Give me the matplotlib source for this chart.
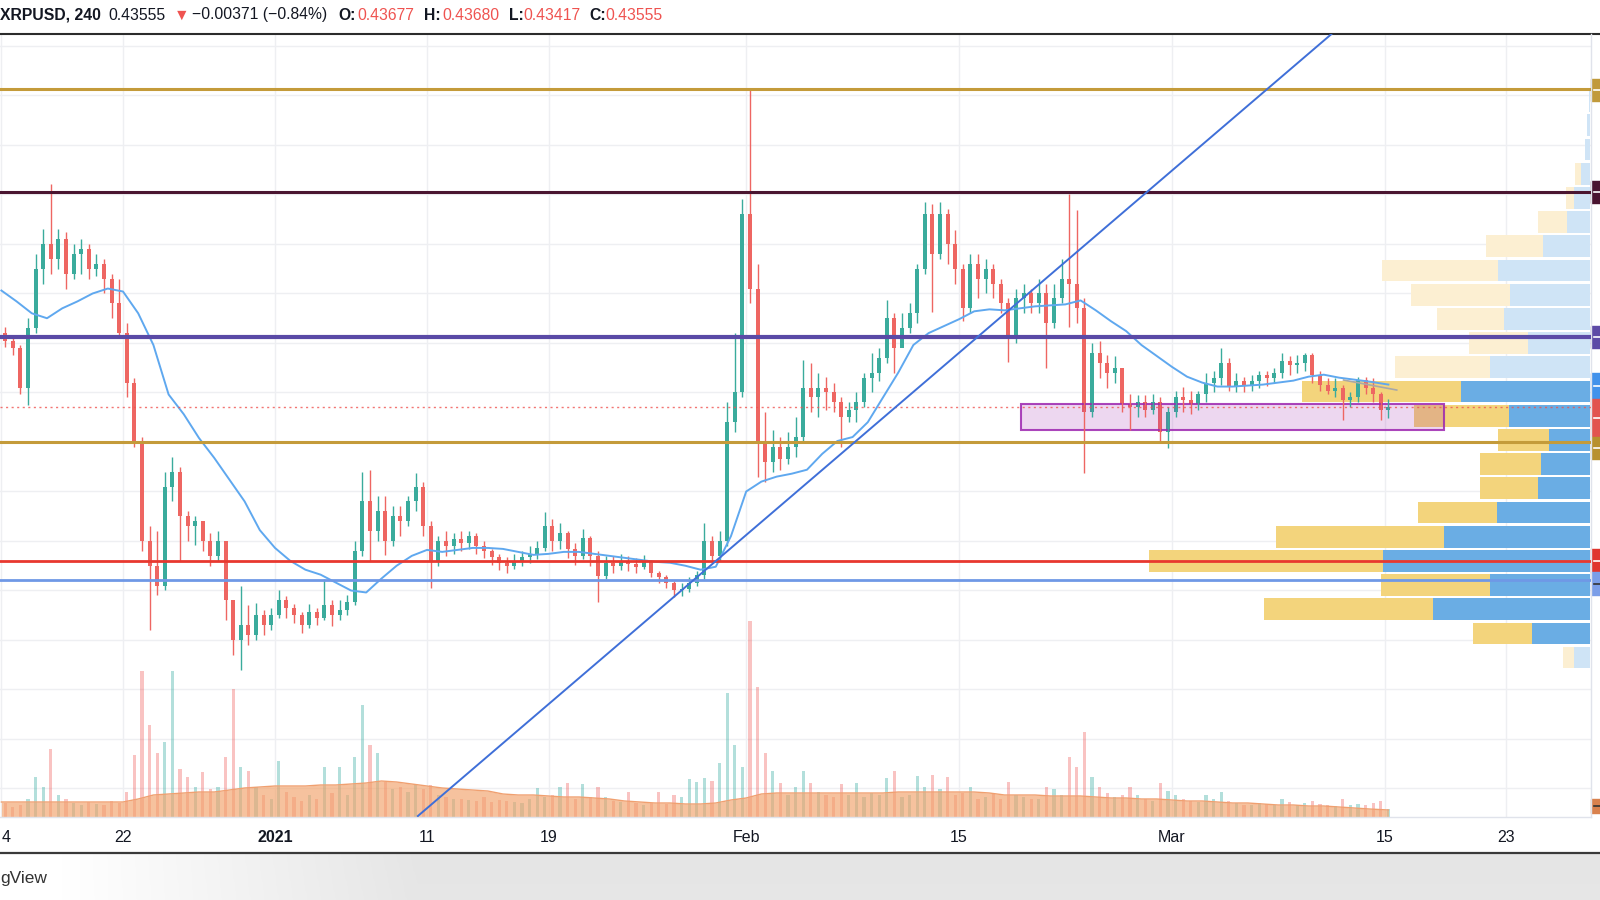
import matplotlib
matplotlib.use("Agg")
import matplotlib.pyplot as plt
from matplotlib.lines import Line2D
from matplotlib.patches import Rectangle
import numpy as np

# XRPUSD, 12h candles, day 0 = Dec 14 2020
first_open = 0.510
closes = [0.502, 0.495, 0.455, 0.515, 0.575, 0.600, 0.585, 0.605, 0.570, 0.590,
          0.595, 0.575, 0.580, 0.565, 0.540, 0.510, 0.460, 0.400, 0.300, 0.275,
          0.255, 0.355, 0.370, 0.325, 0.315, 0.320, 0.300, 0.285, 0.300, 0.240,
          0.200, 0.215, 0.205, 0.225, 0.215, 0.225, 0.240, 0.232, 0.225, 0.215,
          0.228, 0.222, 0.235, 0.225, 0.230, 0.238, 0.290, 0.340, 0.310, 0.330,
          0.300, 0.325, 0.320, 0.340, 0.355, 0.315, 0.280, 0.300, 0.295, 0.302,
          0.298, 0.305, 0.295, 0.290, 0.284, 0.278, 0.275, 0.280, 0.284, 0.287,
          0.293, 0.315, 0.300, 0.308, 0.292, 0.285, 0.303, 0.285, 0.265, 0.278,
          0.275, 0.280, 0.277, 0.274, 0.280, 0.268, 0.264, 0.258, 0.250, 0.252,
          0.258, 0.266, 0.300, 0.285, 0.300, 0.420, 0.450, 0.630, 0.555, 0.400,
          0.380, 0.395, 0.383, 0.395, 0.405, 0.455, 0.445, 0.455, 0.450, 0.440,
          0.425, 0.432, 0.440, 0.465, 0.470, 0.485, 0.525, 0.495, 0.515, 0.530,
          0.575, 0.630, 0.590, 0.630, 0.600, 0.575, 0.535, 0.580, 0.565, 0.575,
          0.560, 0.540, 0.505, 0.545, 0.550, 0.540, 0.550, 0.520, 0.545, 0.565,
          0.560, 0.535, 0.430, 0.490, 0.480, 0.470, 0.475, 0.438, 0.435, 0.440,
          0.432, 0.440, 0.410, 0.430, 0.445, 0.442, 0.438, 0.448, 0.460, 0.465,
          0.480, 0.457, 0.462, 0.457, 0.462, 0.468, 0.465, 0.470, 0.482, 0.478,
          0.480, 0.488, 0.468, 0.458, 0.452, 0.455, 0.442, 0.445, 0.463, 0.455,
          0.448, 0.432, 0.4356]
highs = [0.516, 0.508, 0.498, 0.525, 0.590, 0.615, 0.661, 0.615, 0.612, 0.600,
         0.605, 0.600, 0.590, 0.585, 0.570, 0.565, 0.520, 0.465, 0.405, 0.315,
         0.310, 0.370, 0.385, 0.375, 0.330, 0.325, 0.320, 0.308, 0.310, 0.300,
         0.240, 0.255, 0.235, 0.237, 0.230, 0.232, 0.250, 0.244, 0.236, 0.228,
         0.236, 0.232, 0.262, 0.240, 0.240, 0.245, 0.300, 0.370, 0.372, 0.345,
         0.345, 0.335, 0.335, 0.345, 0.369, 0.360, 0.320, 0.305, 0.310, 0.308,
         0.310, 0.310, 0.308, 0.300, 0.292, 0.287, 0.284, 0.287, 0.290, 0.295,
         0.300, 0.329, 0.322, 0.318, 0.310, 0.298, 0.312, 0.305, 0.290, 0.285,
         0.285, 0.287, 0.285, 0.283, 0.286, 0.281, 0.270, 0.266, 0.260, 0.258,
         0.264, 0.270, 0.318, 0.305, 0.310, 0.440, 0.510, 0.645, 0.7566, 0.580,
         0.430, 0.412, 0.405, 0.410, 0.425, 0.483, 0.480, 0.470, 0.466, 0.460,
         0.445, 0.440, 0.450, 0.470, 0.490, 0.495, 0.543, 0.530, 0.530, 0.540,
         0.580, 0.642, 0.640, 0.642, 0.635, 0.614, 0.580, 0.590, 0.590, 0.585,
         0.580, 0.565, 0.545, 0.555, 0.560, 0.555, 0.565, 0.560, 0.560, 0.585,
         0.650, 0.634, 0.545, 0.500, 0.502, 0.488, 0.487, 0.475, 0.448, 0.447,
         0.447, 0.448, 0.445, 0.435, 0.452, 0.456, 0.452, 0.452, 0.470, 0.472,
         0.495, 0.485, 0.470, 0.466, 0.468, 0.472, 0.472, 0.475, 0.490, 0.487,
         0.488, 0.490, 0.490, 0.472, 0.465, 0.465, 0.458, 0.450, 0.466, 0.466,
         0.465, 0.450, 0.443]
lows = [0.496, 0.488, 0.448, 0.437, 0.510, 0.560, 0.570, 0.575, 0.555, 0.565,
        0.570, 0.565, 0.568, 0.550, 0.525, 0.505, 0.445, 0.395, 0.290, 0.210,
        0.245, 0.250, 0.340, 0.280, 0.300, 0.296, 0.290, 0.275, 0.280, 0.220,
        0.185, 0.170, 0.195, 0.200, 0.205, 0.210, 0.222, 0.222, 0.217, 0.207,
        0.212, 0.215, 0.220, 0.214, 0.220, 0.225, 0.235, 0.285, 0.280, 0.300,
        0.286, 0.295, 0.305, 0.315, 0.330, 0.305, 0.253, 0.275, 0.285, 0.287,
        0.290, 0.292, 0.287, 0.283, 0.276, 0.271, 0.268, 0.272, 0.275, 0.278,
        0.282, 0.290, 0.290, 0.292, 0.283, 0.276, 0.282, 0.275, 0.238, 0.262,
        0.268, 0.271, 0.270, 0.268, 0.272, 0.264, 0.258, 0.253, 0.243, 0.244,
        0.248, 0.255, 0.262, 0.278, 0.280, 0.295, 0.410, 0.445, 0.540, 0.365,
        0.360, 0.370, 0.372, 0.378, 0.385, 0.400, 0.430, 0.425, 0.432, 0.430,
        0.395, 0.420, 0.420, 0.435, 0.450, 0.462, 0.480, 0.470, 0.500, 0.510,
        0.520, 0.570, 0.531, 0.585, 0.580, 0.560, 0.522, 0.530, 0.545, 0.550,
        0.545, 0.530, 0.481, 0.500, 0.530, 0.530, 0.530, 0.475, 0.515, 0.540,
        0.516, 0.520, 0.369, 0.425, 0.465, 0.455, 0.460, 0.430, 0.412, 0.425,
        0.425, 0.428, 0.400, 0.394, 0.425, 0.430, 0.428, 0.432, 0.440, 0.450,
        0.458, 0.452, 0.450, 0.450, 0.452, 0.455, 0.457, 0.460, 0.465, 0.468,
        0.470, 0.472, 0.460, 0.452, 0.448, 0.445, 0.422, 0.435, 0.440, 0.448,
        0.440, 0.422, 0.424]
volumes = [14, 10, 12, 18, 40, 30, 68, 22, 18, 14, 12, 15, 13, 12, 16, 14, 25, 62, 146, 92,
           64, 75, 146, 48, 40, 30, 45, 28, 30, 60, 128, 50, 46, 30, 22, 18, 56, 25, 20, 16,
           22, 18, 50, 24, 50, 22, 60, 112, 72, 64, 35, 28, 30, 25, 33, 28, 32, 22, 20, 18,
           18, 17, 16, 20, 15, 17, 16, 15, 14, 18, 29, 20, 22, 30, 34, 18, 33, 20, 30, 20,
           16, 15, 25, 14, 12, 14, 25, 13, 22, 20, 38, 35, 39, 36, 54, 124, 72, 50, 196, 130,
           64, 46, 34, 22, 30, 46, 34, 25, 22, 20, 33, 22, 34, 20, 24, 22, 39, 46, 20, 22,
           41, 30, 42, 28, 40, 22, 24, 30, 18, 20, 24, 18, 35, 22, 20, 18, 18, 30, 28, 22,
           60, 50, 85, 40, 30, 24, 20, 22, 30, 22, 18, 16, 34, 26, 22, 18, 16, 15, 22, 18,
           25, 16, 14, 12, 12, 14, 13, 12, 18, 15, 12, 14, 16, 13, 12, 11, 18, 12, 13, 12,
           14, 16, 8]

# moving average of price and of volume, one value per day
ma_values = [0.553, 0.542, 0.530, 0.525, 0.535, 0.542, 0.550, 0.555, 0.552, 0.530,
             0.498, 0.448, 0.428, 0.404, 0.384, 0.362, 0.340, 0.311, 0.293, 0.280,
             0.271, 0.266, 0.258, 0.250, 0.248, 0.262, 0.275, 0.285, 0.291, 0.289,
             0.291, 0.293, 0.293, 0.292, 0.289, 0.286, 0.287, 0.289, 0.289, 0.287,
             0.285, 0.283, 0.281, 0.279, 0.278, 0.275, 0.271, 0.274, 0.305, 0.350,
             0.360, 0.365, 0.368, 0.372, 0.388, 0.401, 0.405, 0.420, 0.445, 0.470,
             0.498, 0.510, 0.517, 0.524, 0.532, 0.534, 0.533, 0.535, 0.537, 0.538,
             0.539, 0.543, 0.533, 0.522, 0.512, 0.498, 0.487, 0.476, 0.466, 0.460,
             0.456, 0.456, 0.457, 0.458, 0.460, 0.462, 0.466, 0.468, 0.465, 0.463,
             0.461, 0.458]
vol_ma_values = [15, 15, 15, 15, 15, 15, 15, 15, 15, 18, 22, 23, 24, 25, 25, 27, 29, 30, 31, 31,
                 31, 32, 32, 33, 34, 36, 35, 33, 31, 29, 28, 27, 26, 23, 22, 22, 21, 20, 20, 19,
                 18, 16, 15, 14, 14, 13, 13, 14, 17, 19, 23, 24, 24, 24, 24, 24, 24, 24, 24, 25,
                 25, 25, 25, 25, 25, 24, 22, 22, 22, 21, 21, 21, 20, 19, 19, 18, 18, 17, 16, 16,
                 15, 14, 14, 13, 12, 12, 11, 11, 10, 9, 8, 7]

# horizontal levels drawn on the chart
levels = [0.7566, 0.6525, 0.5061, 0.400, 0.2798, 0.2606]
level_colors = ["#c49b3a", "#4a1530", "#5a4aa6", "#c49b3a", "#e8382f", "#6f98e6"]
last_close = 0.43555

# trend line and support zone drawings
trend_days = [27.4, 87.5]
trend_prices = [0.0222, 0.812]
small_trend_days = [88.3, 91.8]
small_trend_prices = [0.4626, 0.4525]
zone_days = [67.1, 94.9]
zone_prices = [0.4121, 0.4384]

# visible range volume profile, 24 rows from 0.170 to 0.7566
vp_low, vp_high = 0.170, 0.7566
vp_blue = [16, 58, 157, 100, 207, 146, 93, 52, 49, 41, 81, 129,
           100, 62, 86, 80, 92, 47, 23, 16, 9, 5, 3, 1]
vp_yellow = [11, 59, 169, 109, 234, 168, 79, 58, 61, 51, 95, 159,
             95, 59, 67, 99, 116, 57, 29, 8, 6, 0, 0, 0]
vp_value_area = (1, 11)

tick_days = [0, 8, 18, 28, 36, 49, 63, 77, 91, 99]
tick_labels = ["4", "22", "2021", "11", "19", "Feb", "15", "Mar", "15", "23"]

W, H = 1600, 900
fig = plt.figure(figsize=(16, 9), dpi=100)
fig.patch.set_facecolor("white")


def fx(px):
    return px / W


def fy(py):
    return 1 - py / H


rect = [0, fy(817), fx(1591), (817 - 34) / H]
ax_bg = fig.add_axes(rect, zorder=0)
ax_vol = fig.add_axes(rect, zorder=1, sharex=ax_bg)
ax_vp = fig.add_axes(rect, zorder=2, sharey=ax_bg)
ax = fig.add_axes(rect, zorder=3, sharex=ax_bg, sharey=ax_bg)
for a in (ax_bg, ax_vol, ax_vp, ax):
    for s in a.spines.values():
        s.set_visible(False)
    a.set_xticks([])
    a.set_yticks([])
for a in (ax_vol, ax_vp, ax):
    a.patch.set_visible(False)

ax_bg.set_xlim(-0.092, 104.58)
ax_bg.set_ylim(0.02121, 0.81212)
ax_vol.set_ylim(0, 783)
ax_vp.set_xlim(1590, -1)

# grid
for p in np.arange(0.05, 0.81, 0.05):
    ax_bg.axhline(p, color="#eeeff2", lw=1)
for d in tick_days:
    ax_bg.axvline(d, color="#eeeff2", lw=1)

# volume
n = len(closes)
opens = [first_open] + closes[:-1]
xs = np.arange(n) * 0.5 + 0.25
up = [c >= o for o, c in zip(opens, closes)]
vcol = [(38/255, 166/255, 154/255, 0.35) if u else (239/255, 83/255, 80/255, 0.35) for u in up]
ax_vol.bar(xs, volumes, width=0.2, color=vcol, linewidth=0)
ma_x = np.arange(len(vol_ma_values)) + 0.0
ma_x[-1] = xs[-1]
ax_vol.fill_between(ma_x, 0, vol_ma_values, color="#f2a26a", alpha=0.65, linewidth=0)
ax_vol.plot(ma_x, vol_ma_values, color="#f0a070", lw=1)

# volume profile
bin_h = (vp_high - vp_low) / len(vp_blue)
centers = vp_low + bin_h * (np.arange(len(vp_blue)) + 0.5)
in_va = [vp_value_area[0] <= k <= vp_value_area[1] for k in range(len(vp_blue))]
blue_c = ["#6aade4" if v else "#cfe4f6" for v in in_va]
yell_c = ["#f3d47c" if v else "#fcefd2" for v in in_va]
ax_vp.barh(centers, vp_blue, height=bin_h * 0.9, left=0, color=blue_c, linewidth=0)
ax_vp.barh(centers, vp_yellow, height=bin_h * 0.9, left=vp_blue, color=yell_c, linewidth=0)

# candles
green, red = "#3aab9c", "#ee6662"
ccol = [green if u else red for u in up]
ax.vlines(xs, lows, highs, colors=ccol, lw=1)
body_lo = [min(o, c) for o, c in zip(opens, closes)]
body_h = [max(abs(c - o), 0.002) for o, c in zip(opens, closes)]
ax.bar(xs, body_h, bottom=body_lo, width=0.26, color=ccol, linewidth=0)

# moving average
ma_days = np.arange(len(ma_values)) + 0.0
ma_days[-1] = xs[-1]
ax.plot(ma_days, ma_values, color="#5fa8ef", lw=1.4)

# levels
widths = [2.2, 2.2, 3.0, 2.2, 2.0, 2.0]
for p, c, w in zip(levels, level_colors, widths):
    ax.axhline(p, color=c, lw=w)
ax.axhline(last_close, color="#ef5350", lw=1, ls=(0, (1.5, 2.5)), alpha=0.8)

# drawings
ax.plot(trend_days, trend_prices, color="#3f6fd8", lw=1.4)
ax.plot(small_trend_days, small_trend_prices, color="#a8a8a8", lw=1.2)
ax.add_patch(Rectangle((zone_days[0], zone_prices[0]), zone_days[1] - zone_days[0],
                       zone_prices[1] - zone_prices[0],
                       facecolor=(0.61, 0.15, 0.69, 0.18),
                       edgecolor=(0.61, 0.15, 0.69, 0.85), lw=1.5))

# time axis labels (first one is cut by the window edge in the original)
for d, lab in zip(tick_days, tick_labels):
    ha = "left" if lab == "4" else "center"
    ax.text(d, -20 / 783, lab, transform=ax.get_xaxis_transform(), ha=ha, va="center",
            fontsize=11.5, color="#131722", fontweight="bold" if lab == "2021" else "normal",
            family="Liberation Sans")

# pane borders
fig.add_artist(Line2D([0, 1], [fy(34), fy(34)], color="#2b2b2b", lw=1.5))
fig.add_artist(Line2D([0, fx(1591)], [fy(817), fy(817)], color="#e0e3eb", lw=1))
fig.add_artist(Line2D([fx(1591), fx(1591)], [fy(34), fy(817)], color="#e0e3eb", lw=1))
fig.add_artist(Line2D([0, 1], [fy(853), fy(853)], color="#3a3a3a", lw=1.6))

# price scale tags (cut at the right edge)
tags = [(79, 101, "#c19a3b", "white"), (181, 203, "#4a1430", "white"),
        (326, 348, "#5e4ba6", "white"), (373, 399, "#4292eb", "white"),
        (399, 437, "#e2544f", "white"), (437, 459, "#b8912e", "white"),
        (549, 572, "#e0352d", "white"), (572, 595, "#7b9ee8", "#333333"),
        (799, 813, "#d9814d", "#333333")]
for y0, y1, c, dc in tags:
    fig.add_artist(Rectangle((fx(1591), fy(y1)), fx(9), (y1 - y0) / H, color=c,
                             transform=fig.transFigure))
    ym = fy((y0 + y1) / 2)
    fig.add_artist(Line2D([fx(1594), fx(1600)], [ym, ym], color=dc, lw=1.2))

# header
hy = fy(15)
parts = [(0, "XRPUSD, 240", "#131722", "bold"), (108, "0.43555", "#131722", "normal"),
         (174, "▼", "#ef5350", "normal"), (192, "−0.00371 (−0.84%)", "#131722", "normal"),
         (338, "O:", "#131722", "bold"), (357, "0.43677", "#ef5350", "normal"),
         (424, "H:", "#131722", "bold"), (442, "0.43680", "#ef5350", "normal"),
         (509, "L:", "#131722", "bold"), (523, "0.43417", "#ef5350", "normal"),
         (589, "C:", "#131722", "bold"), (605, "0.43555", "#ef5350", "normal")]
for x, s, c, wgt in parts:
    fig.text(fx(x), hy, s, color=c, fontweight=wgt, fontsize=11.3, va="center", ha="left",
             family=["Liberation Sans", "DejaVu Sans"])

# bottom strip
ax_strip = fig.add_axes([0, 0, 1, (900 - 854) / H], zorder=0)
gx = np.linspace(0, 1, 400)
shade = 1 - 0.10 * np.clip((gx - 0.04) / 0.22, 0, 1)
gy = np.linspace(0, 1, 30)[:, None]
img = shade[None, :] * (1 - 0.03 * gy) + 0.03 * gy
ax_strip.imshow(np.dstack([img, img, img]), aspect="auto", extent=[0, 1, 0, 1], vmin=0, vmax=1)
ax_strip.axis("off")
fig.text(0, fy(879), "gView", fontsize=12.5, color="#333333", va="center", ha="left",
         family="Liberation Sans")

fig.savefig("out.png", dpi=100)
